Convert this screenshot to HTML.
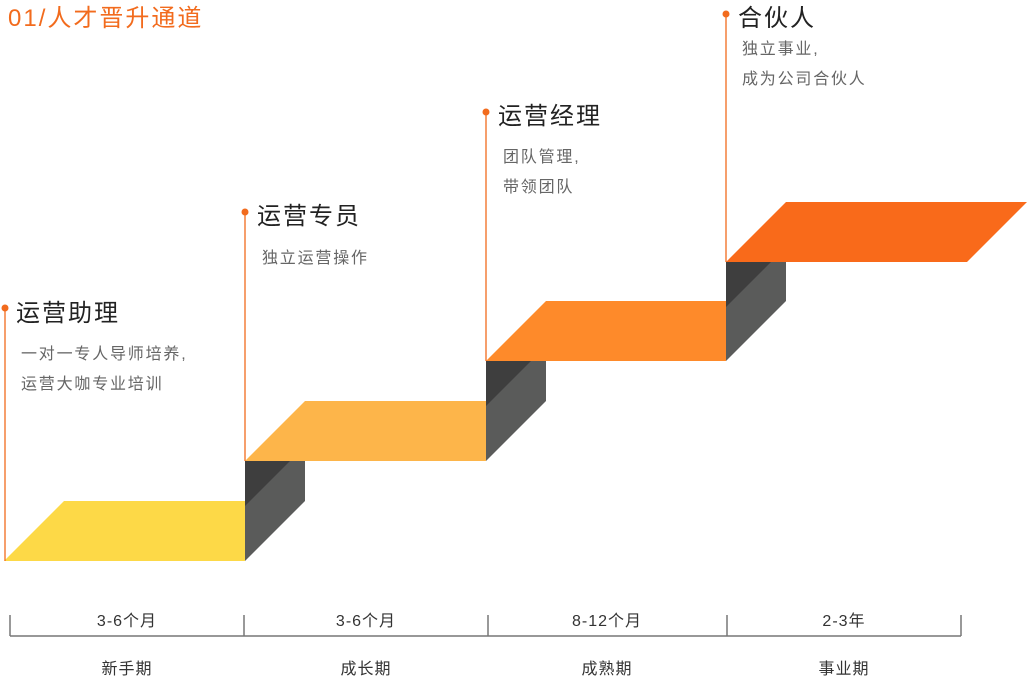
<!DOCTYPE html><html><head><meta charset="utf-8"><style>
body{margin:0;width:1027px;height:675px;background:#fff;overflow:hidden;font-family:"Liberation Sans","Noto Sans CJK SC",sans-serif;position:relative}
.t{position:absolute;white-space:nowrap}
.h{font-size:24px;color:#222;letter-spacing:2px}
.s{font-size:16px;color:#666;line-height:30px;letter-spacing:1.8px}
.a{font-size:16px;color:#333;width:160px;text-align:center;letter-spacing:1px}
</style></head><body>
<svg width="1027" height="675" style="position:absolute;left:0;top:0">
<g>
<polygon points="4,561 64,501 245,501 245,561" fill="#FDD947"/>
<polygon points="245,461 305,461 305,501 245,561" fill="#5A5B5A"/>
<polygon points="245,461 290,461 245,506" fill="#3E3E3E"/>
<polygon points="245,461 305,401 486,401 486,461" fill="#FDB54A"/>
<polygon points="486,361 546,361 546,401 486,461" fill="#5A5B5A"/>
<polygon points="486,361 531,361 486,406" fill="#3E3E3E"/>
<polygon points="486,361 546,301 726,301 726,361" fill="#FE8A2A"/>
<polygon points="726,262 786,262 786,301 726,361" fill="#5A5B5A"/>
<polygon points="726,262 771,262 726,307" fill="#3E3E3E"/>
<polygon points="726,262 786,202 1027,202 967,262" fill="#F96A1A"/>
</g>
<g stroke="#F26B1D" stroke-width="1.3">
<line x1="5" y1="308" x2="5" y2="561"/>
<line x1="245" y1="212" x2="245" y2="461"/>
<line x1="486" y1="112" x2="486" y2="361"/>
<line x1="726" y1="14" x2="726" y2="262"/>
</g>
<g fill="#F26B1D">
<circle cx="5" cy="308" r="3.5"/><circle cx="245" cy="212" r="3.5"/><circle cx="486" cy="112" r="3.5"/><circle cx="726" cy="14" r="3.5"/>
</g>
<g stroke="#777" stroke-width="1.5" fill="none">
<line x1="10" y1="636" x2="961" y2="636"/>
<line x1="10" y1="615" x2="10" y2="636"/>
<line x1="244" y1="615" x2="244" y2="636"/>
<line x1="488" y1="615" x2="488" y2="636"/>
<line x1="727" y1="615" x2="727" y2="636"/>
<line x1="961" y1="615" x2="961" y2="636"/>
</g>
</svg>
<div class="t" style="left:8px;top:-2px;font-size:24px;color:#F26B1D;letter-spacing:2px">01/人才晋升通道</div>
<div class="t h" style="left:16px;top:293px">运营助理</div>
<div class="t s" style="left:21px;top:340px">一对一专人导师培养,<br>运营大咖专业培训</div>
<div class="t h" style="left:257px;top:196px">运营专员</div>
<div class="t s" style="left:262px;top:244px">独立运营操作</div>
<div class="t h" style="left:498px;top:96px">运营经理</div>
<div class="t s" style="left:503px;top:143px">团队管理,<br>带领团队</div>
<div class="t h" style="left:738px;top:-2px">合伙人</div>
<div class="t s" style="left:742px;top:35px">独立事业,<br>成为公司合伙人</div>
<div class="t a" style="left:47px;top:607px">3-6个月</div>
<div class="t a" style="left:286px;top:607px">3-6个月</div>
<div class="t a" style="left:527px;top:607px">8-12个月</div>
<div class="t a" style="left:764px;top:607px">2-3年</div>
<div class="t a" style="left:47px;top:655px">新手期</div>
<div class="t a" style="left:286px;top:655px">成长期</div>
<div class="t a" style="left:527px;top:655px">成熟期</div>
<div class="t a" style="left:764px;top:655px">事业期</div>
</body></html>
